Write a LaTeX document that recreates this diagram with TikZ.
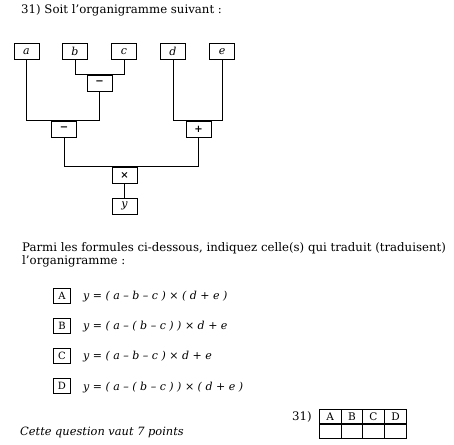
\documentclass[tikz,border=0pt]{standalone}
\usepackage{fontspec}
\setmainfont{DejaVu Serif}
\begin{document}
\begin{tikzpicture}[x=1pt,y=-1pt,
  box/.style={draw,line width=0.9pt,minimum width=25pt,minimum height=16pt,inner sep=0pt,font=\fontsize{11}{12}\selectfont\itshape},
  opbox/.style={box,font=\fontsize{10}{11}\selectfont\bfseries},
  wire/.style={line width=0.9pt},
  txt/.style={anchor=base west,inner sep=0pt,font=\fontsize{11.75}{13}\selectfont},
  fml/.style={anchor=base west,inner sep=0pt,font=\fontsize{11}{12}\selectfont\itshape},
  letbox/.style={draw,line width=0.7pt,minimum width=17pt,minimum height=15pt,inner sep=0pt,font=\fontsize{10}{11}\selectfont},
  cell/.style={draw,line width=0.7pt,minimum width=21.8pt,minimum height=14.5pt,inner sep=0pt,font=\fontsize{10.5}{11}\selectfont}]
\useasboundingbox (0,0) rectangle (454,444);
% title
\node[txt] (title) at (21,14) {31) Soit l’organigramme suivant :};
% tree
\node[box] (a) at (26.5,51.5) {a};
\node[box] (b) at (75,51.5) {b};
\node[box] (c) at (124,51.5) {c};
\node[box] (d) at (173,51.5) {d};
\node[box] (e) at (222,51.5) {e};
\node[opbox] (m1) at (99.5,83) {−};
\node[opbox] (m2) at (64,129) {−};
\node[opbox] (p) at (198.5,129) {+};
\node[opbox] (t) at (124.5,175) {×};
\node[box] (y) at (124.5,206) {y};
\draw[wire] (b.south) |- (m1.north) -| (c.south);
\draw[wire] (a.south) |- (m2.north) -| (m1.south);
\draw[wire] (d.south) |- (p.north) -| (e.south);
\draw[wire] (m2.south) |- (t.north) -| (p.south);
\draw[wire] (t.south) -- (y.north);
% paragraph
\node[txt] (q1) at (22,251) {Parmi les formules ci-dessous, indiquez celle(s) qui traduit (traduisent)};
\node[txt] (q2) at (22,264) {l’organigramme :};
% options
\node[letbox] (bA) at (62,295.5) {A};
\node[letbox] (bB) at (62,325.5) {B};
\node[letbox] (bC) at (62,355.5) {C};
\node[letbox] (bD) at (62,386) {D};
\node[fml] (fA) at (83,299.5) {y = ( a – b – c ) × ( d + e )};
\node[fml] (fB) at (83,329.5) {y = ( a – ( b – c ) ) × d + e};
\node[fml] (fC) at (83,359.5) {y = ( a – b – c ) × d + e};
\node[fml] (fD) at (83,390) {y = ( a – ( b – c ) ) × ( d + e )};
% footer
\node[txt,font=\fontsize{11.4}{12}\selectfont\itshape] (pts) at (20,435.5) {Cette question vaut 7 points};
\node[txt] (n31) at (292,420.5) {31)};
\foreach \l/\x in {A/330.1,B/351.9,C/373.5,D/395.5}{
  \node[cell] (h\l) at (\x,416.3) {\l};
  \node[cell] (r\l) at (\x,431.3) {};
}
\end{tikzpicture}
\end{document}
